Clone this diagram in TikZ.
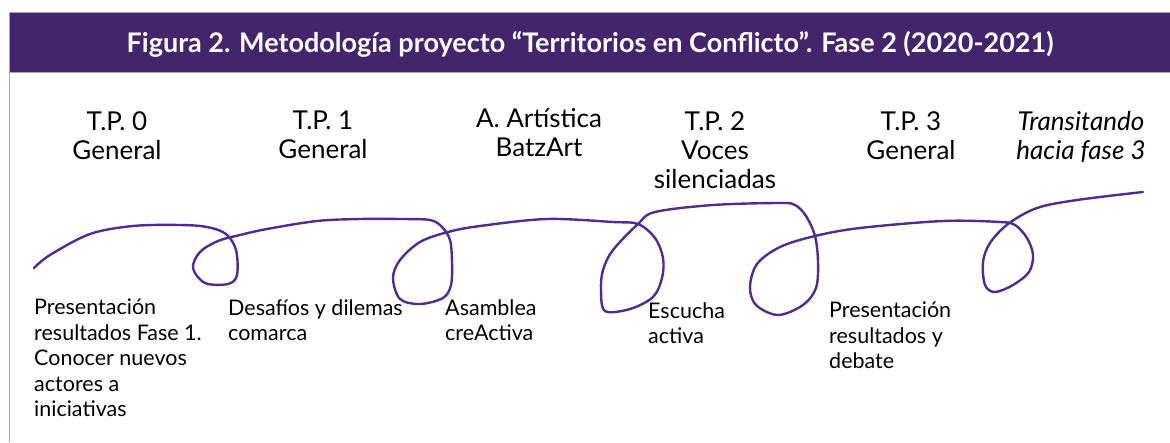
\documentclass[tikz,border=0pt]{standalone}
\usepackage{fontspec}
\setmainfont{Lato}
\definecolor{bandpurple}{RGB}{68,37,107}
\definecolor{inkpurple}{RGB}{80,45,140}
\tikzset{
  toplbl/.style={anchor=north, align=center, inner sep=0pt, font=\fontsize{26}{29}\selectfont},
  botlbl/.style={anchor=north west, align=left, inner sep=0pt, font=\fontsize{21.5}{25.5}\selectfont},
  inkline/.style={draw=inkpurple, line width=2.4pt, line cap=round, line join=round}
}
\begin{document}
\begin{tikzpicture}[x=1pt,y=-1pt]
                \useasboundingbox (0,0) rectangle (1170,442);
                \fill[white] (0,0) rectangle (1170,442);
                \draw[gray!70, line width=1pt] (9,72)--(9,442);
                \draw[gray!70, line width=1pt, fill=bandpurple] (9,12) rectangle (1175,72);
                \draw (590,44) node[text=white, inner sep=0pt, font=\fontsize{27}{32}\selectfont\bfseries] (title) {Figura 2. Metodología proyecto “Territorios en Conflicto”. Fase 2 (2020-2021)};
                \draw (117,111) node[toplbl] (tp0) {T.P. 0\\General};
                \draw (323,111) node[toplbl] (tp1) {T.P. 1\\General};
                \draw (539,108) node[toplbl] (art) {A. Artística\\BatzArt};
                \draw (715,111) node[toplbl] (tp2) {T.P. 2\\Voces\\silenciadas};
                \draw (911,111) node[toplbl] (tp3) {T.P. 3\\General};
                \draw (1081,111) node[toplbl, font=\fontsize{26}{29}\selectfont\itshape] (fase3) {Transitando\\hacia fase 3};
                \draw (34,299) node[botlbl] (res0) {Presentación\\resultados Fase 1.\\Conocer nuevos\\actores a\\iniciativas};
                \draw (228,299) node[botlbl] (res1) {Desafíos y dilemas\\comarca};
                \draw (445,299) node[botlbl] (res2) {Asamblea\\creActiva};
                \draw (648,302) node[botlbl] (res3) {Escucha\\activa};
                \draw (829,302) node[botlbl] (res4) {Presentación\\resultados y\\debate};
                % hand drawn thread with loops
                \draw[inkline] plot[smooth, tension=0.55] coordinates {
                  (34,268) (50,255) (90,234) (133,226) (180,225) (207,227) (226,234)
                  (236,250) (237,275) (228,284) (205,283) (193,268) (200,252) (218,241)
                  (240,235) (267,229) (317,221) (360,219) (400,219) (430,220) (442,227)
                  (450,240) (452,262) (451,285) (443,298) (420,304) (400,299) (393,278)
                  (400,260) (420,242) (448,232) (480,226) (547,219) (613,222) (638,224)
                  (655,238) (663,258) (662,278) (653,297) (630,309) (605,311) (601,290)
                  (603,270) (613,250) (638,224) (655,212) (713,205) (780,203) (795,205)
                  (806,216) (815,236) (818,262) (816,288) (803,305) (778,315) (756,305)
                  (750,287) (757,264) (780,247) (815,236) (860,228) (943,221) (1000,222)
                  (1015,225) (1027,238) (1033,255) (1029,272) (1013,285) (995,292) (985,285)
                  (983,262) (990,243) (1008,224) (1037,208) (1077,200) (1143,192)};
            \end{tikzpicture}
\end{document}
